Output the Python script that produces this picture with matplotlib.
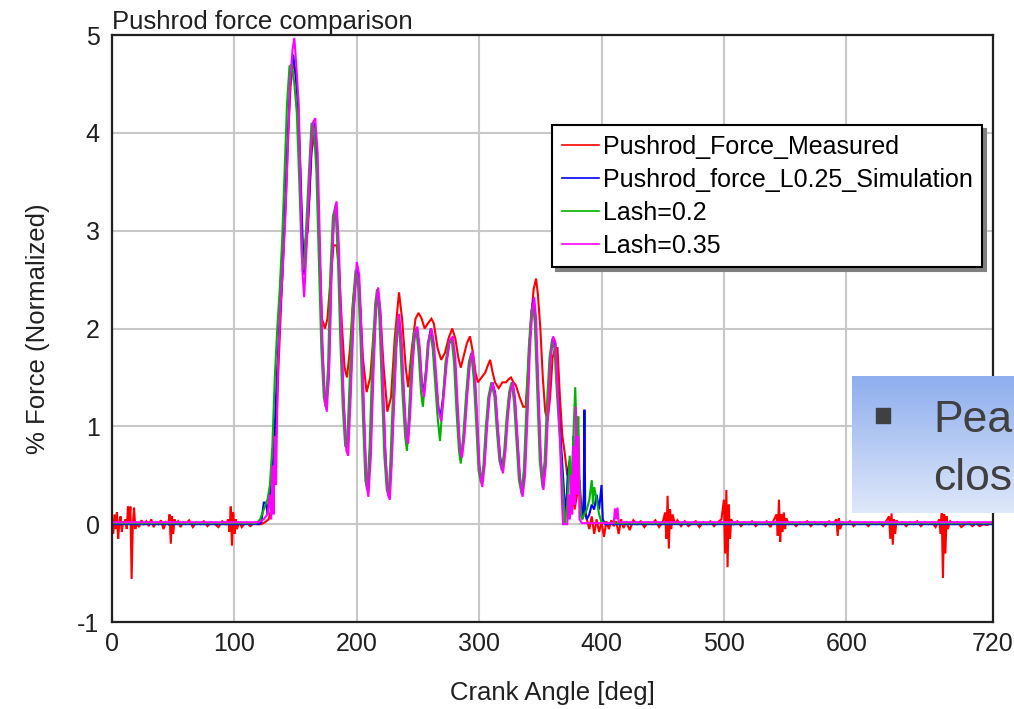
import numpy as np
import matplotlib
matplotlib.use("Agg")
import matplotlib.pyplot as plt
from matplotlib.patches import Rectangle
from matplotlib.colors import LinearSegmentedColormap

# ---------------- data (crank angle [deg], force [normalized]) ----------------
measured = [
    (0, 0.05), (1, -0.1), (2, 0.1), (3, -0.05), (4, 0.12), (5, -0.15), (6, 0.02), (7, 0.08),
    (8, -0.08), (9, 0.03), (10, 0.0), (11, 0.05), (12, -0.05), (13, 0.18), (14, 0.02), (15, 0.18),
    (16, -0.56), (17, 0.0), (18, 0.17), (19, -0.05), (20, 0.02), (22, -0.03), (24, 0.04), (26, 0.0),
    (28, 0.03), (30, -0.02), (32, 0.05), (34, -0.03), (36, 0.02), (38, 0.0), (40, 0.04), (42, -0.05),
    (44, 0.02), (46, 0.0), (47, 0.1), (48, -0.2), (49, 0.08), (50, -0.1), (51, 0.05), (52, 0.0),
    (54, 0.03), (56, -0.03), (58, 0.02), (60, 0.0), (63, 0.04), (66, -0.03), (69, 0.02), (72, 0.0),
    (75, 0.03), (78, -0.02), (81, 0.02), (84, 0.0), (87, -0.03), (90, 0.03), (93, 0.0), (95, 0.05),
    (96, -0.08), (97, 0.18), (98, -0.22), (99, 0.12), (100, -0.1), (101, 0.05), (102, -0.05),
    (104, 0.02), (106, -0.03), (108, 0.0), (110, 0.02), (113, -0.02), (116, 0.01), (119, 0.0),
    (122, 0.0), (125, 0.02), (128, 0.05), (130, 0.15), (132, 0.4), (134, 0.9), (136, 1.6),
    (138, 2.2), (140, 2.8), (142, 3.3), (144, 4.0), (146, 4.5), (148, 4.7), (149.5, 4.65),
    (151.5, 4.4), (153.5, 3.7), (155, 3.0), (156.5, 2.65), (158, 2.9), (160, 3.0), (163, 3.8),
    (165.5, 4.0), (167.5, 3.7), (169.5, 2.8), (171.5, 2.1), (174, 2.0), (176, 2.1), (178.5, 2.5),
    (181, 2.85), (183.5, 2.85), (185.5, 2.6), (188, 2.0), (190, 1.6), (192, 1.5), (194.5, 1.8),
    (197, 2.3), (200, 2.6), (202.5, 2.3), (205, 1.7), (208, 1.35), (211, 1.5), (214, 2.0),
    (217, 2.35), (219.5, 2.1), (222, 1.6), (225, 1.15), (228, 1.3), (231, 1.9), (234.5, 2.37),
    (237, 2.1), (240, 1.6), (242, 1.4), (245, 1.8), (248, 2.1), (250.5, 2.16), (253, 2.1),
    (255.5, 2.0), (258, 2.05), (261, 2.1), (263, 2.05), (266, 1.8), (269, 1.68), (272, 1.75),
    (275, 1.9), (278, 2.0), (280.5, 1.9), (283, 1.7), (285, 1.6), (288, 1.75), (290, 1.85),
    (292.5, 1.92), (295, 1.75), (297, 1.55), (299, 1.45), (302, 1.5), (305, 1.55), (307, 1.62),
    (309, 1.68), (311, 1.55), (313, 1.45), (316, 1.39), (319, 1.45), (322, 1.45), (324, 1.48),
    (326, 1.5), (328, 1.45), (330, 1.42), (333, 1.3), (336, 1.2), (338, 1.2), (340, 1.6),
    (342.5, 2.1), (344.5, 2.4), (346.5, 2.51), (348, 2.35), (350, 2.0), (352, 1.5), (354, 1.15),
    (356, 1.06), (358, 1.3), (360, 1.7), (362, 1.8), (364, 1.8), (366, 1.3), (368, 0.9),
    (370, 0.72), (372, 0.5), (374, 0.6), (376, 0.35), (378, 0.15), (380, 0.3), (382, 0.45),
    (384, 0.1), (386, 0.2), (388, 0.05), (390, -0.05), (392, 0.08), (394, -0.1), (396, 0.05),
    (398, -0.08), (400, 0.02), (402, -0.13), (404, 0.03), (406, -0.05), (408, 0.04), (410, -0.02),
    (412, 0.03), (414, -0.1), (416, 0.05), (418, -0.04), (420, 0.03), (423, -0.06), (426, 0.04),
    (429, 0.0), (432, 0.03), (435, -0.03), (438, 0.02), (441, 0.0), (444, 0.04), (447, -0.03),
    (450, 0.02), (452, 0.12), (453, -0.15), (454, 0.29), (455, -0.25), (456, 0.15), (457, -0.05),
    (458, 0.1), (460, 0.0), (462, 0.04), (465, -0.02), (468, 0.03), (471, -0.02), (474, 0.01),
    (477, 0.03), (480, -0.03), (483, 0.02), (486, 0.0), (489, 0.03), (492, -0.02), (495, 0.02),
    (498, 0.05), (500, 0.25), (501, -0.3), (502, 0.35), (503, -0.44), (504, 0.2), (505, -0.15),
    (506, 0.05), (508, 0.0), (511, 0.03), (514, -0.02), (517, 0.02), (520, 0.0), (523, 0.03),
    (526, -0.02), (529, 0.02), (532, 0.0), (535, 0.03), (538, -0.03), (541, 0.05), (543, 0.1),
    (544, -0.12), (545, 0.25), (546, -0.18), (547, 0.1), (548, -0.08), (549, 0.12), (550, -0.05),
    (551, 0.06), (553, 0.0), (556, 0.02), (559, -0.02), (562, 0.02), (565, 0.0), (568, 0.03),
    (571, -0.02), (574, 0.02), (577, 0.0), (580, 0.02), (583, -0.02), (586, 0.03), (589, 0.0),
    (592, 0.05), (593, -0.12), (594, 0.06), (595, -0.05), (597, 0.02), (600, 0.0), (603, 0.03),
    (606, -0.02), (609, 0.02), (612, 0.0), (615, 0.02), (618, -0.02), (621, 0.02), (624, 0.0),
    (627, 0.02), (630, -0.02), (633, 0.04), (635, 0.08), (636, -0.15), (637, 0.11), (638, -0.21),
    (639, 0.05), (640, -0.1), (641, 0.04), (643, 0.0), (646, 0.02), (649, -0.02), (652, 0.02),
    (655, 0.0), (658, 0.03), (661, -0.02), (664, 0.02), (667, 0.0), (670, 0.02), (673, -0.03),
    (676, 0.05), (677, -0.1), (678, 0.11), (679, -0.55), (680, 0.1), (681, -0.3), (682, 0.08),
    (683, -0.05), (685, 0.03), (688, 0.0), (691, 0.02), (694, -0.03), (697, 0.0), (700, 0.02),
    (703, -0.02), (706, 0.01), (709, -0.02), (712, 0.0), (715, -0.01), (718, 0.01), (720, 0.0),
]

sim_l025 = [
    (0, 0.0), (120, 0.0), (122, 0.02), (124, 0.22), (126, 0.22), (127, 0.1), (129, 0.3),
    (131, 0.5), (133, 1.0), (135, 1.6), (137, 2.1), (139, 2.5), (141, 3.1), (143, 3.8),
    (145.5, 4.5), (148, 4.8), (150, 4.6), (152, 4.3), (154, 3.6), (156, 2.8), (157, 2.55),
    (159, 2.9), (161, 3.3), (163.5, 4.0), (165.5, 4.1), (167.5, 3.7), (169.5, 2.8), (171.5, 1.9),
    (173.5, 1.35), (175, 1.2), (177, 1.5), (179, 2.5), (181, 3.1), (183, 3.28), (185, 2.8),
    (187, 2.0), (189, 1.3), (191, 0.85), (192.5, 0.8), (194.5, 1.3), (197, 2.1), (199.5, 2.6),
    (201.5, 2.55), (203.5, 2.0), (205.5, 1.2), (207.5, 0.5), (209, 0.35), (211, 0.7), (213, 1.5),
    (215.5, 2.2), (217, 2.4), (219, 2.2), (221, 1.5), (223, 0.8), (225, 0.35), (226.5, 0.3),
    (228, 0.6), (230, 1.2), (232, 1.8), (234, 2.1), (236, 1.9), (238, 1.4), (240, 0.95),
    (241.5, 0.85), (243, 1.1), (245, 1.6), (247, 1.9), (249, 2.0), (251, 1.8), (253, 1.45),
    (254.5, 1.35), (256.5, 1.55), (258.5, 1.85), (260.5, 2.0), (262.5, 1.85), (264.5, 1.5),
    (266.5, 1.2), (268.5, 1.1), (270.5, 1.3), (273, 1.65), (275.5, 1.85), (278, 1.9), (280, 1.7),
    (282, 1.2), (284, 0.8), (285.5, 0.7), (287.5, 0.9), (290, 1.35), (292, 1.65), (294, 1.75),
    (296, 1.55), (298, 1.1), (300, 0.6), (302, 0.42), (304, 0.6), (306, 1.0), (308, 1.3),
    (310.5, 1.45), (313, 1.35), (315, 1.0), (317, 0.7), (319, 0.55), (321, 0.75), (323, 1.1),
    (325, 1.35), (327, 1.45), (329, 1.3), (331, 0.9), (333, 0.5), (335, 0.3), (337, 0.5),
    (339, 1.1), (341, 1.8), (343, 2.2), (344.5, 2.3), (346, 2.1), (348, 1.4), (350, 0.7),
    (352, 0.37), (354, 0.6), (356, 1.2), (358, 1.7), (360, 1.9), (362, 1.85), (364, 1.4),
    (366, 1.0), (368, 0.6), (369.5, 0.3), (371, 0.1), (372.5, 0.55), (374, 0.65), (375.5, 0.2),
    (377, 0.9), (378.5, 0.4), (380, 1.1), (381.5, 0.5), (383, 0.1), (384.5, 0.05), (385.5, 0.3),
    (386, 1.17), (386.7, 0.1), (388, 0.05), (390, 0.1), (392, 0.2), (394, 0.15), (396, 0.3),
    (398, 0.15), (400, 0.4), (401, 0.05), (403, 0.0), (720, 0.0),
]

lash_02 = [
    (0, 0.01), (118, 0.01), (121, 0.05), (124, 0.15), (127, 0.25), (129, 0.4), (131, 0.8),
    (133, 1.5), (135, 2.0), (137, 2.4), (139, 2.9), (141, 3.6), (143, 4.3), (145, 4.68),
    (147, 4.7), (149, 4.5), (151, 4.2), (153, 3.5), (155, 2.75), (156.5, 2.6), (158.5, 3.0),
    (160.5, 3.5), (163, 4.1), (165, 4.05), (167, 3.6), (169, 2.7), (171, 1.8), (173, 1.3),
    (174.5, 1.2), (176.5, 1.6), (178.5, 2.6), (180.5, 3.15), (182.5, 3.25), (184.5, 2.75),
    (186.5, 1.9), (188.5, 1.2), (190.5, 0.8), (192, 0.78), (194, 1.4), (196.5, 2.2), (199, 2.6),
    (201, 2.5), (203, 1.9), (205, 1.1), (207, 0.45), (208.5, 0.35), (210.5, 0.8), (212.5, 1.6),
    (215, 2.25), (216.5, 2.4), (218.5, 2.1), (220.5, 1.4), (222.5, 0.7), (224.5, 0.35), (226, 0.3),
    (227.5, 0.65), (229.5, 1.3), (231.5, 1.85), (233.5, 2.1), (235.5, 1.85), (237.5, 1.3),
    (239.5, 0.9), (241, 0.75), (242.5, 1.1), (244.5, 1.6), (246.5, 1.95), (248.5, 2.0),
    (250.5, 1.75), (252.5, 1.35), (254, 1.2), (256, 1.5), (258, 1.85), (260, 1.95), (262, 1.8),
    (264, 1.45), (266, 1.1), (268, 0.85), (270, 1.2), (272.5, 1.65), (275, 1.85), (277.5, 1.9),
    (279.5, 1.65), (281.5, 1.15), (283.5, 0.75), (285, 0.62), (287, 0.9), (289.5, 1.35),
    (291.5, 1.65), (293.5, 1.75), (295.5, 1.5), (297.5, 1.05), (299.5, 0.55), (301.5, 0.42),
    (303.5, 0.6), (305.5, 1.0), (307.5, 1.3), (310, 1.45), (312.5, 1.3), (314.5, 0.95),
    (316.5, 0.65), (318.5, 0.55), (320.5, 0.75), (322.5, 1.1), (324.5, 1.35), (326.5, 1.45),
    (328.5, 1.25), (330.5, 0.85), (332.5, 0.45), (334.5, 0.32), (336.5, 0.55), (338.5, 1.15),
    (340.5, 1.8), (342.5, 2.15), (344, 2.25), (345.5, 2.05), (347.5, 1.35), (349.5, 0.65),
    (351.5, 0.4), (353.5, 0.65), (355.5, 1.25), (357.5, 1.7), (359.5, 1.88), (361.5, 1.8),
    (363.5, 1.35), (365.5, 0.95), (367.5, 0.55), (369, 0.25), (370, 0.0), (372, 0.2), (374, 0.7),
    (375.5, 0.3), (377, 0.9), (378.5, 1.4), (380, 0.8), (381, 1.1), (382.5, 0.2), (384, 0.05),
    (386, 0.1), (388, 0.15), (390, 0.25), (392, 0.45), (393, 0.2), (394, 0.38), (396, 0.25),
    (398, 0.1), (400, 0.02), (405, 0.01), (720, 0.01),
]

lash_035 = [
    (0, 0.02), (120, 0.02), (124, 0.05), (127, 0.1), (129, 0.3), (130, 0.05), (131, 0.6),
    (132, 0.1), (133, 0.9), (134, 0.4), (135.5, 1.6), (137.5, 2.2), (139.5, 2.6), (141.5, 3.1),
    (143.5, 3.8), (145.5, 4.5), (147.5, 4.85), (149, 4.97), (150.5, 4.7), (152.5, 4.3),
    (154, 3.5), (155.5, 2.6), (157, 2.32), (158.5, 2.7), (160, 3.1), (162, 3.7), (164, 4.1),
    (166, 4.15), (168, 3.8), (170, 2.8), (172, 1.8), (174, 1.25), (175.5, 1.15), (177.5, 1.6),
    (179.5, 2.6), (181.5, 3.15), (183.5, 3.3), (185.5, 2.8), (187.5, 1.9), (189.5, 1.2),
    (191.5, 0.75), (193, 0.7), (195, 1.3), (197.5, 2.15), (200, 2.68), (202, 2.55), (204, 1.9),
    (206, 1.1), (208, 0.4), (209.5, 0.28), (211.5, 0.7), (213.5, 1.5), (216, 2.3), (217.5, 2.42),
    (219.5, 2.15), (221.5, 1.4), (223.5, 0.7), (225.5, 0.3), (227, 0.25), (228.5, 0.6),
    (230.5, 1.25), (232.5, 1.85), (234.5, 2.15), (236.5, 1.9), (238.5, 1.35), (240.5, 0.9),
    (242, 0.82), (243.5, 1.1), (245.5, 1.6), (247.5, 1.95), (249.5, 2.02), (251.5, 1.8),
    (253.5, 1.4), (255, 1.3), (257, 1.55), (259, 1.9), (261, 2.0), (263, 1.85), (265, 1.5),
    (267, 1.15), (269, 1.05), (271, 1.3), (273.5, 1.65), (276, 1.88), (278.5, 1.92), (280.5, 1.7),
    (282.5, 1.2), (284.5, 0.75), (286, 0.68), (288, 0.9), (290.5, 1.35), (292.5, 1.65),
    (294.5, 1.77), (296.5, 1.55), (298.5, 1.05), (300.5, 0.55), (302.5, 0.38), (304.5, 0.6),
    (306.5, 1.0), (308.5, 1.3), (311, 1.45), (313.5, 1.3), (315.5, 0.95), (317.5, 0.62),
    (319.5, 0.52), (321.5, 0.75), (323.5, 1.1), (325.5, 1.35), (327.5, 1.45), (329.5, 1.25),
    (331.5, 0.85), (333.5, 0.45), (335.5, 0.28), (337.5, 0.5), (339.5, 1.1), (341.5, 1.8),
    (343.5, 2.2), (345, 2.32), (346.5, 2.1), (348.5, 1.35), (350.5, 0.65), (352.5, 0.35),
    (354.5, 0.6), (356.5, 1.2), (358.5, 1.7), (360.5, 1.92), (362.5, 1.85), (364, 1.4),
    (366, 0.9), (367.5, 0.3), (368.5, 0.0), (372, 0.0), (373, 0.3), (374, 0.05), (375, 0.5),
    (376, 0.1), (377, 0.8), (378, 0.2), (379, 1.2), (380, 0.3), (381, 0.9), (382, 0.05),
    (384, 0.01), (410, 0.01), (411, 0.16), (412, 0.05), (413, 0.17), (414, 0.02), (720, 0.02),
]

series_labels = ["Pushrod_Force_Measured", "Pushrod_force_L0.25_Simulation", "Lash=0.2", "Lash=0.35"]
series_colors = ["#ff0000", "#0000ff", "#00b400", "#ff00ff"]

x_ticks = [0, 100, 200, 300, 400, 500, 600, 720]
y_ticks = [-1, 0, 1, 2, 3, 4, 5]

title_text = "Pushrod force comparison"
x_label = "Crank Angle [deg]"
y_label = "% Force (Normalized)"
overlay_lines = ["Pea", "clos"]

# ---------------- figure ----------------
plt.rcParams['font.family'] = ['Liberation Sans', 'DejaVu Sans']
plt.rcParams['axes.unicode_minus'] = False
fig = plt.figure(figsize=(10.14, 7.09), dpi=100)
ax = fig.add_axes([0.1105, 0.1227, 0.8689, 0.8279])

for data, lab, col in zip([measured, sim_l025, lash_02, lash_035], series_labels, series_colors):
    xs = [p[0] for p in data]
    ys = [p[1] for p in data]
    ax.plot(xs, ys, color=col, lw=1.5, label=lab, solid_joinstyle='miter')

ax.set_xlim(0, 720)
ax.set_ylim(-1, 5)
ax.set_xticks(x_ticks)
ax.set_yticks(y_ticks)
ax.grid(True, color='#c8c8c8', lw=1.5)
ax.set_axisbelow(True)
for s in ax.spines.values():
    s.set_linewidth(1.6)
    s.set_color('#202020')
ax.tick_params(length=0, pad=7, colors='#202020', labelsize=18)
ax.tick_params(axis='y', pad=9)

ax.set_title(title_text, loc='left', pad=4, fontsize=18.5, color='#202020')
ax.set_xlabel(x_label, fontsize=18.5, labelpad=18, color='#202020')
ax.set_ylabel(y_label, fontsize=18.5, labelpad=20, color='#202020')

leg = ax.legend(loc='upper left', bbox_to_anchor=(0.4994, 0.8467), borderaxespad=0,
                fontsize=18, frameon=True, fancybox=False, edgecolor='black',
                framealpha=1, handlelength=1.5, handletextpad=0.15, labelspacing=0.36,
                borderpad=0.38,
                shadow={'ox': 3, 'oy': -3, 'color': '#808080', 'alpha': 1})
leg.get_frame().set_linewidth(1.5)
for h in leg.get_lines():
    h.set_linewidth(1.2)

# ---------------- overlay slide box ----------------
ob = fig.add_axes([0.8402, 0.2764, 0.1598, 0.1932])
grad = np.linspace(0, 1, 256).reshape(-1, 1)
cm = LinearSegmentedColormap.from_list('g', ['#8eaeee', '#dfe8fa'])
ob.imshow(grad, cmap=cm, aspect='auto', extent=[0, 1, 0, 1], origin='upper')
ob.set_xlim(0, 1)
ob.set_ylim(0, 1)
ob.axis('off')
ob.add_patch(Rectangle((0.148, 0.657), 0.087, 0.109, color='#404040', transform=ob.transAxes))
ob.text(0.50, 0.59, overlay_lines[0], fontsize=32, color='#404040', va='baseline',
        ha='left', transform=ob.transAxes)
ob.text(0.50, 0.17, overlay_lines[1], fontsize=32, color='#404040', va='baseline',
        ha='left', transform=ob.transAxes)

fig.savefig("out.png", dpi=100)
